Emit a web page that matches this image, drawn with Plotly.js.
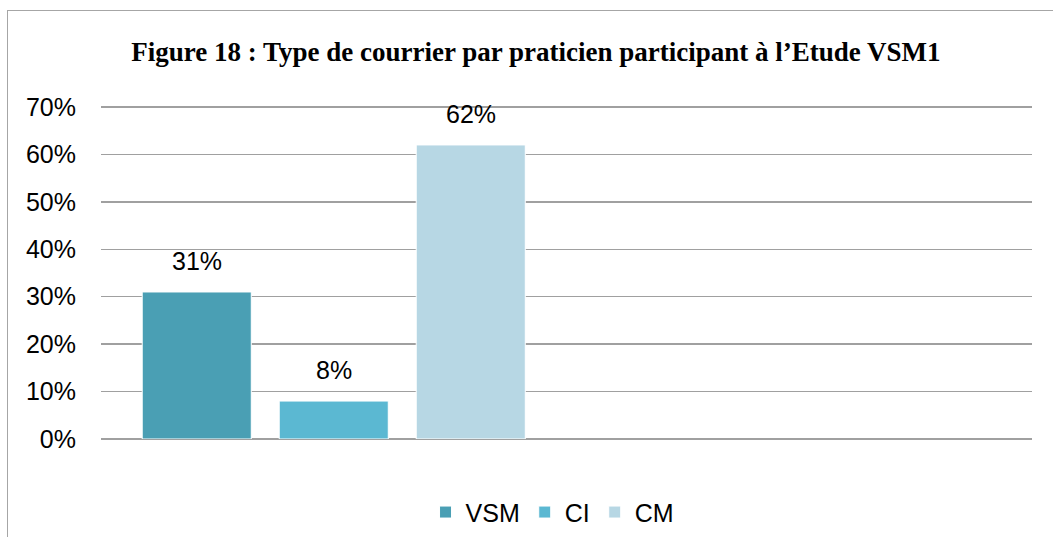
<!DOCTYPE html>
<html>
<head>
<meta charset="utf-8">
<script src="https://cdn.plot.ly/plotly-3.0.1.min.js"></script>
<style>
html,body{margin:0;padding:0;background:#fff;}
#frame{position:absolute;left:7px;top:10px;width:2000px;height:2000px;border-left:1.5px solid #a6a6a6;border-top:1.5px solid #a6a6a6;pointer-events:none;z-index:5;}
#chart{width:1053px;height:537px;}
</style>
</head>
<body>
<div id="frame"></div>
<div id="chart"></div>
<script>
const seriesNames = ["VSM", "CI", "CM"];
const seriesValues = [31, 8, 62];
const seriesColors = ["#4a9fb4", "#5bb8d2", "#b7d7e4"];
const yTickVals = [0, 10, 20, 30, 40, 50, 60, 70];
const yTickText = ["0%", "10%", "20%", "30%", "40%", "50%", "60%", "70%"];
const titleText = "Figure 18 : Type de courrier par praticien participant à l’Etude VSM1";

// two category slots on the x axis (the second one is empty, as in the original chart)
const groupX = 0;
const bargap = 0.117;
const bargroupgap = 0.204;
const font = "Liberation Sans, Arial, sans-serif";

const traces = seriesNames.map((name, i) => ({
  type: "bar",
  name: name,
  x: [groupX],
  y: [seriesValues[i]],
  marker: {color: seriesColors[i], line: {color: "#ffffff", width: 1}},
  hoverinfo: "skip"
}));

const groupWidth = 1 - bargap;
const slot = groupWidth / seriesNames.length;
const annotations = seriesNames.map((name, i) => ({
  x: groupX - groupWidth / 2 + slot * (i + 0.5),
  y: seriesValues[i],
  xref: "x", yref: "y",
  text: seriesValues[i] + "%",
  showarrow: false,
  yanchor: "bottom",
  yshift: 15,
  font: {family: font, size: 25, color: "#000"}
}));

const layout = {
  width: 1053, height: 537,
  margin: {l: 101, r: 21, t: 105, b: 98, autoexpand: false},
  paper_bgcolor: "#fff", plot_bgcolor: "#fff",
  barmode: "group",
  bargap: bargap,
  bargroupgap: bargroupgap,
  title: {text: "<b>" + titleText + "</b>", x: 0.509, xanchor: "center", y: 0.904, yanchor: "middle",
          font: {family: "Liberation Serif, Times New Roman, serif", size: 27, color: "#000"}},
  xaxis: {range: [-0.5, 1.5], showticklabels: false, showgrid: false, zeroline: false, showline: false, ticks: "", fixedrange: true},
  yaxis: {range: [0, 70.42], tickvals: yTickVals, ticktext: yTickText, showgrid: true, gridcolor: "#a0a0a0", gridwidth: 1.5,
          zeroline: true, zerolinecolor: "#a0a0a0", zerolinewidth: 1.5, showline: false, ticks: "", ticklabelstandoff: 24,
          tickfont: {family: font, size: 25, color: "#000"}},
  annotations: annotations,
  showlegend: true,
  legend: {orientation: "h", x: 0.485, xanchor: "center", yref: "container", y: 0.046, yanchor: "middle",
           font: {family: font, size: 25, color: "#000"},
           itemwidth: 30, tracegroupgap: 0}
};

Plotly.newPlot("chart", traces, layout, {displayModeBar: false, staticPlot: true});
</script>
</body>
</html>
